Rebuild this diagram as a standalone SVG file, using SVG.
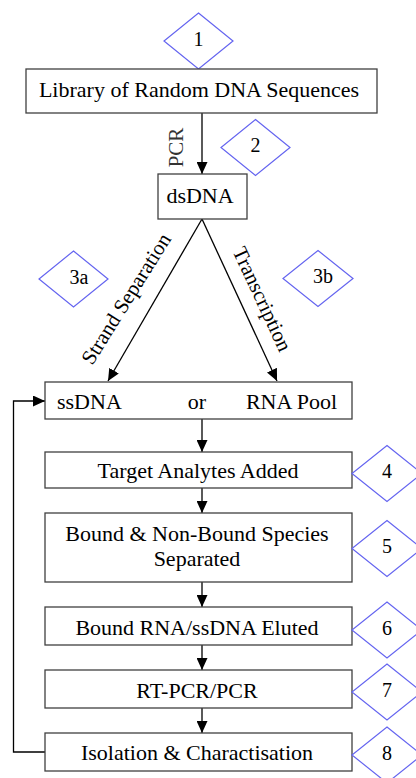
<svg xmlns="http://www.w3.org/2000/svg" width="416" height="778" viewBox="0 0 416 778">
<style>
.box{fill:#fff;stroke:#404040;stroke-width:1.3}
.dia{fill:#fff;stroke:#6464f0;stroke-width:1.2}
.t{font-family:"Liberation Serif","Times New Roman",serif;font-size:22px;fill:#000;text-anchor:middle}
.n{font-family:"Liberation Serif","Times New Roman",serif;font-size:20px;fill:#000;text-anchor:middle}
.l{font-family:"Liberation Serif","Times New Roman",serif;font-size:21px;fill:#000;text-anchor:middle}
.c{fill:none;stroke:#000;stroke-width:1.3}
</style>
<defs>
<marker id="ah" viewBox="0 0 12 11" refX="12" refY="5.5" markerWidth="12" markerHeight="11" markerUnits="userSpaceOnUse" orient="auto">
<path d="M0,0 L12,5.5 L0,11 z" fill="#000"/>
</marker>
</defs>
<rect width="416" height="778" fill="#fff"/>
<g id="connectors">
<line class="c" x1="202" y1="113" x2="202" y2="174" marker-end="url(#ah)"/>
<line class="c" x1="202" y1="219" x2="108" y2="381" marker-end="url(#ah)"/>
<line class="c" x1="202" y1="219" x2="277" y2="381" marker-end="url(#ah)"/>
<line class="c" x1="202" y1="419" x2="202" y2="452" marker-end="url(#ah)"/>
<line class="c" x1="202" y1="488" x2="202" y2="513" marker-end="url(#ah)"/>
<line class="c" x1="202" y1="582" x2="202" y2="607" marker-end="url(#ah)"/>
<line class="c" x1="202" y1="645" x2="202" y2="670" marker-end="url(#ah)"/>
<line class="c" x1="202" y1="708" x2="202" y2="733" marker-end="url(#ah)"/>
<polyline class="c" points="45,752 13.5,752 13.5,401 45,401" marker-end="url(#ah)"/>
<text class="l" fill="#444" transform="translate(183,147.5) rotate(-90)" style="fill:#333">PCR</text>
<text class="l" transform="translate(132,302.5) rotate(-58)">Strand Separation</text>
<text class="l" transform="translate(256,302) rotate(65)">Transcription</text>
</g>
<g id="d1"><polygon class="dia" points="198.5,13 233,41 198.5,69 164,41"/><text class="n" x="198.5" y="45.5">1</text></g>
<g id="n1"><rect class="box" x="26" y="69" width="351" height="44"/><text class="t" x="199" y="97">Library of Random DNA Sequences</text></g>
<g id="d2"><polygon class="dia" points="255.5,119.5 290,147.5 255.5,175.5 221,147.5"/><text class="n" x="255.5" y="152">2</text></g>
<g id="n2"><rect class="box" x="158" y="174" width="89" height="45"/><text class="t" x="200" y="202.5">dsDNA</text></g>
<g id="d3a"><polygon class="dia" points="73.5,251 108,279 73.5,307 39,279"/><text class="n" x="79" y="283.5">3a</text></g>
<g id="d3b"><polygon class="dia" points="318,250.5 353,278.5 318,306.5 283,278.5"/><text class="n" x="323" y="283">3b</text></g>
<g id="n3"><rect class="box" x="45" y="382" width="307" height="37"/><text class="t" x="57" y="409" style="text-anchor:start">ssDNA</text><text class="t" x="197" y="409">or</text><text class="t" x="337" y="409" style="text-anchor:end">RNA Pool</text></g>
<g id="n4"><rect class="box" x="45" y="452" width="307" height="36"/><text class="t" x="198" y="478">Target Analytes Added</text></g>
<g id="d4"><polygon class="dia" points="387,445.5 422,473.5 387,501.5 352,473.5"/><text class="n" x="387" y="478">4</text></g>
<g id="n5"><rect class="box" x="45" y="513" width="307" height="69"/><text class="t" x="197" y="541">Bound &amp; Non-Bound Species</text><text class="t" x="197" y="566">Separated</text></g>
<g id="d5"><polygon class="dia" points="387,520.5 422,548.5 387,576.5 352,548.5"/><text class="n" x="387" y="553">5</text></g>
<g id="n6"><rect class="box" x="45" y="607" width="307" height="38"/><text class="t" x="197" y="635">Bound RNA/ssDNA Eluted</text></g>
<g id="d6"><polygon class="dia" points="387,602 422,630 387,658 352,630"/><text class="n" x="387" y="634.5">6</text></g>
<g id="n7"><rect class="box" x="45" y="670" width="307" height="38"/><text class="t" x="197" y="698">RT-PCR/PCR</text></g>
<g id="d7"><polygon class="dia" points="387,664 422,692 387,720 352,692"/><text class="n" x="387" y="696.5">7</text></g>
<g id="n8"><rect class="box" x="45" y="733" width="307" height="38"/><text class="t" x="197" y="760">Isolation &amp; Charactisation</text></g>
<g id="d8"><polygon class="dia" points="387,727 422,755 387,783 352,755"/><text class="n" x="387" y="759.5">8</text></g>
</svg>
